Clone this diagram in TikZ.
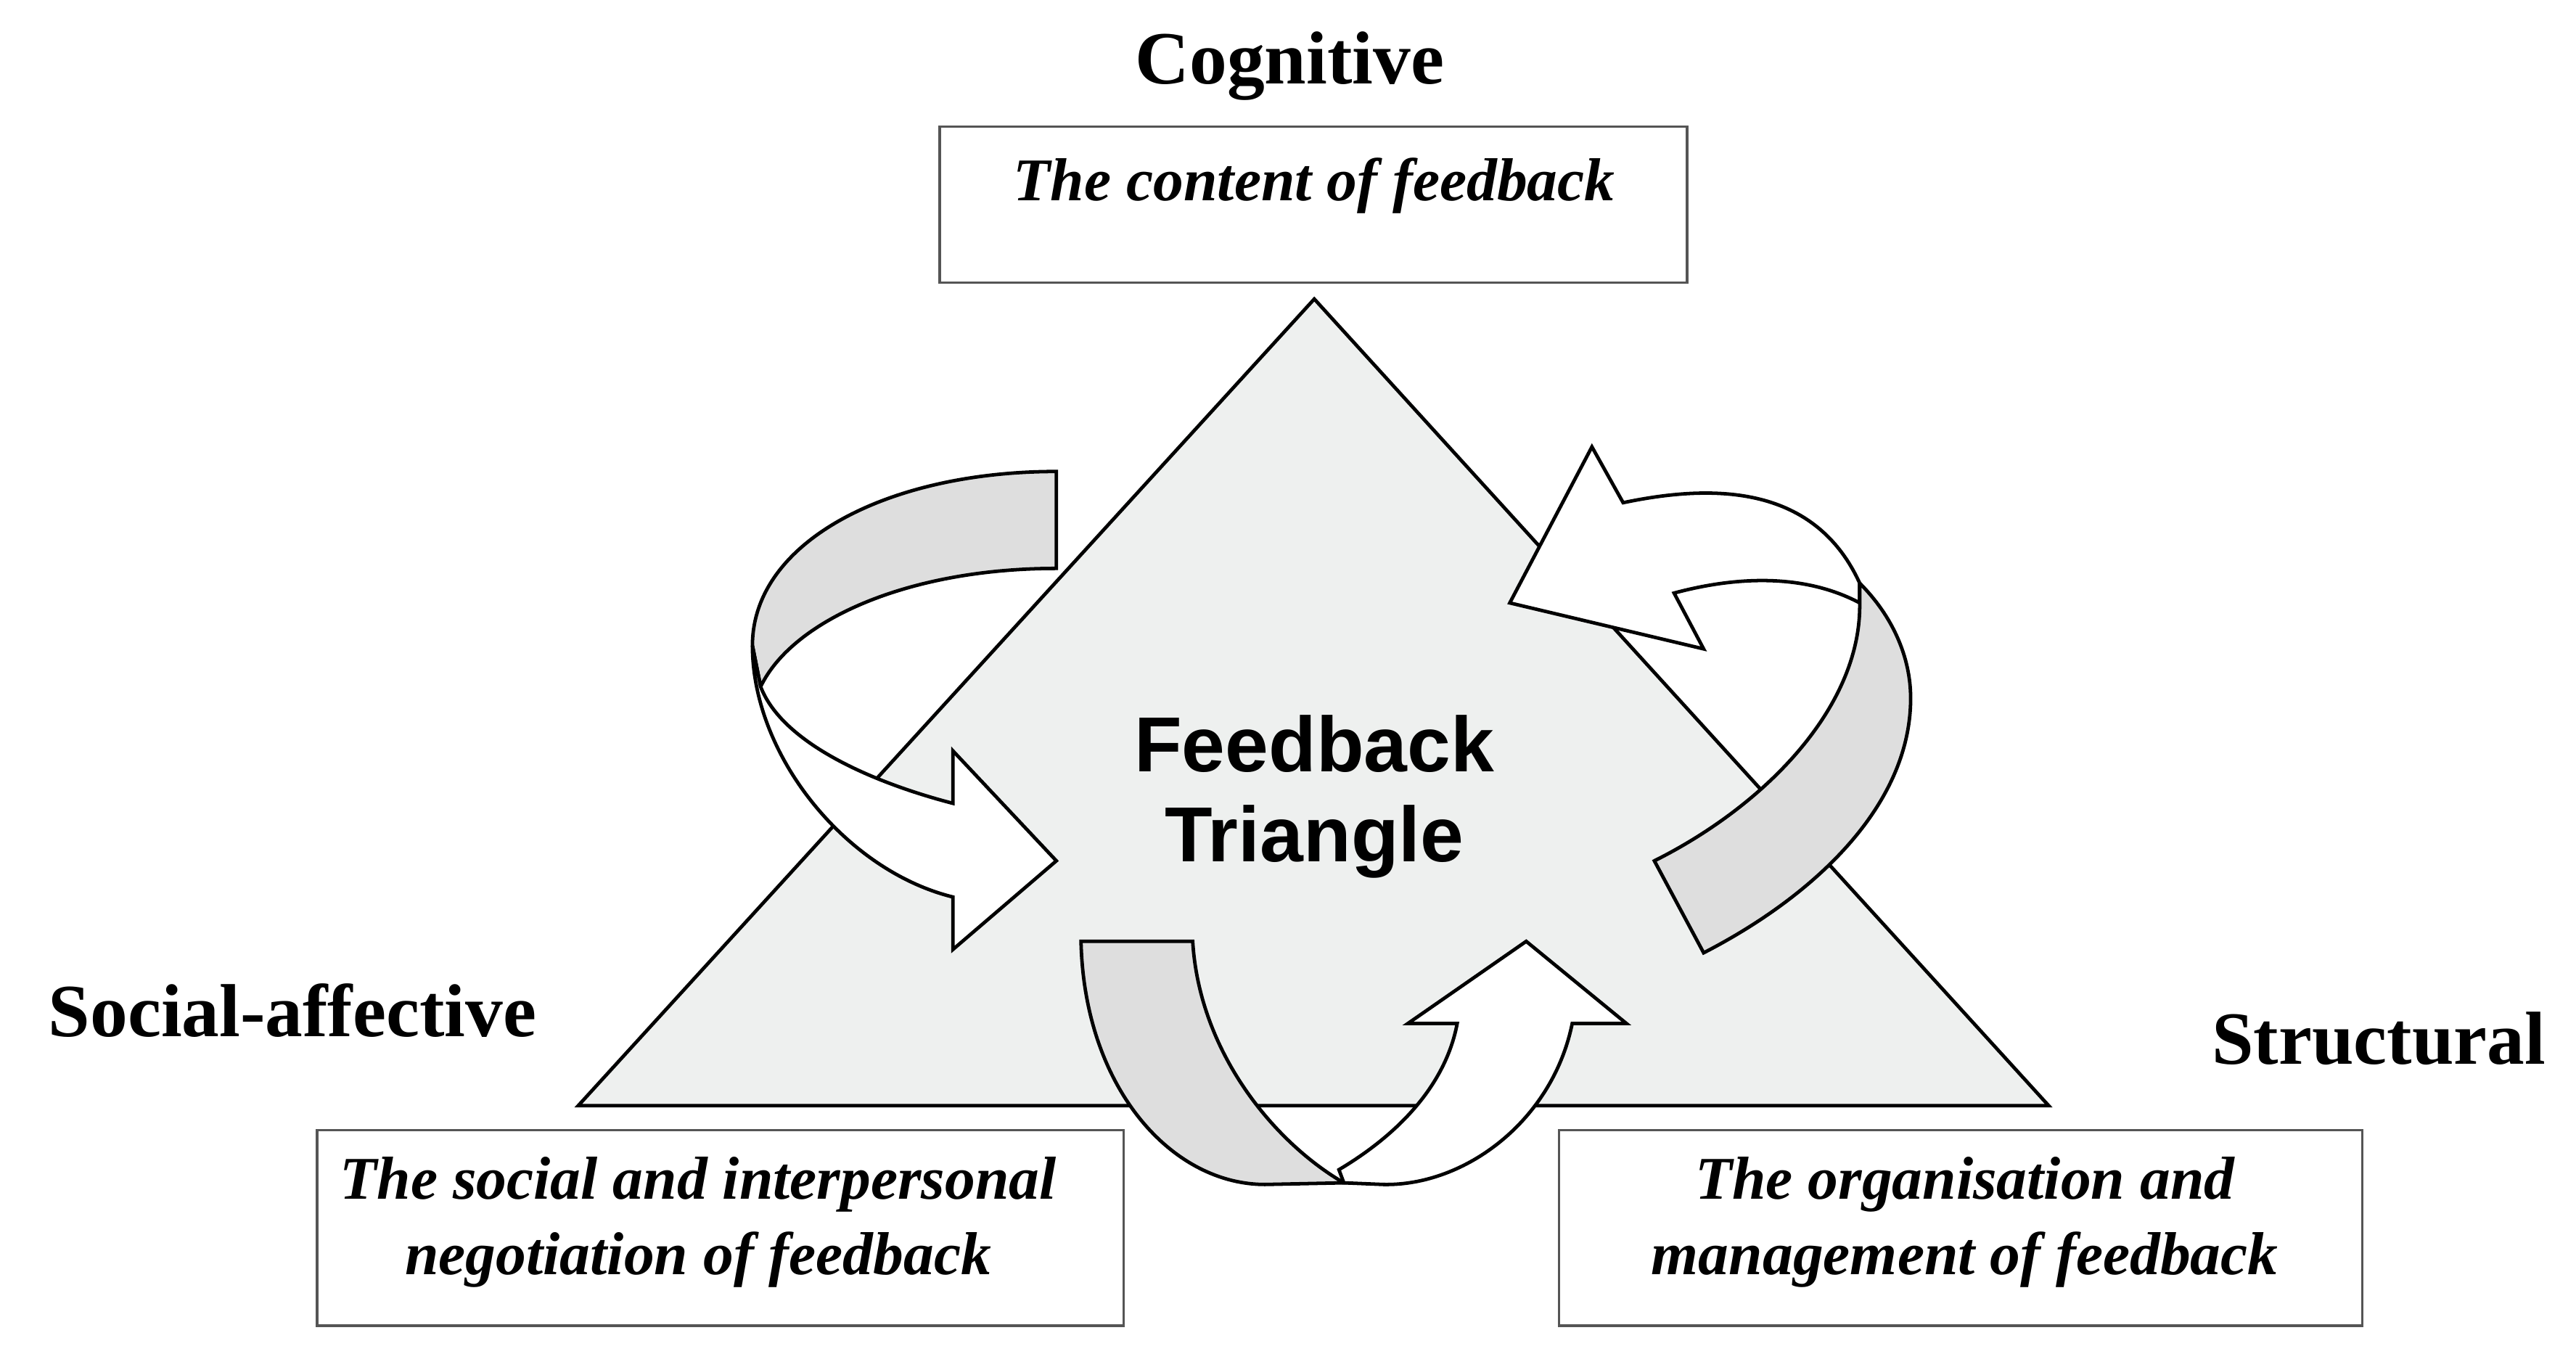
\documentclass[tikz,border=0pt]{standalone}
\usepackage{fontspec}
\setmainfont{Liberation Serif}
\newfontfamily\sansf{Liberation Sans}
\definecolor{trifill}{HTML}{EEF0EF}
\definecolor{ribgray}{HTML}{DEDEDE}
\definecolor{boxline}{HTML}{555555}
\begin{document}
\begin{tikzpicture}[x=0.01cm,y=-0.01cm,
  box/.style={draw=boxline,line width=0.45pt,fill=white,inner sep=0pt},
  boxtxt/.style={font=\fontsize{10.5}{13}\selectfont\bfseries\itshape,align=center},
  head/.style={font=\fontsize{13}{15}\selectfont\bfseries},
  rib/.style={draw=black,line width=0.6pt,line join=miter}]
\useasboundingbox (0,0) rectangle (1568,824);
% triangle
\draw[fill=trifill,line width=0.6pt] (800,182) coordinate (apex) -- (1247,673) -- (352,673) -- cycle;
% boxes
\draw[box] (572,77) rectangle (1027,172);
\node[boxtxt] (tc) at (800,113) {The content of feedback};
\draw[box] (193,688) rectangle (684,807);
\node[boxtxt] (tl) at (425,744) {The social and interpersonal\\negotiation of feedback};
\draw[box] (949,688) rectangle (1438,807);
\node[boxtxt] (tr) at (1196,744) {The organisation and\\management of feedback};
% headings
\node[head] (cog) at (785,40) {Cognitive};
\node[head] (soc) at (178,615) {Social-affective};
\node[head] (str) at (1448,632) {Structural};
\node[font=\sansf\fontsize{13.5}{15.6}\selectfont\bfseries,align=center] (ft) at (800,485) {Feedback\\Triangle};
% left arrow
\draw[rib,fill=ribgray] (643,287) .. controls (540,287) and (458,330) .. (458,393) -- (463,418) .. controls (482,378) and (552,346) .. (643,346) -- cycle;
\draw[rib,fill=white] (458,393) .. controls (458,460) and (515,530) .. (580,546) -- (580,578) -- (643,524) -- (580,457) -- (580,489) .. controls (530,476) and (476,452) .. (463,418) -- cycle;
% right arrow
\draw[rib,fill=white] (988,306) .. controls (1045,294) and (1105,296) .. (1132,355) -- (1132,367) .. controls (1100,350) and (1060,350) .. (1019,361) -- (1037,395) -- (919,367) -- (969,272) -- cycle;
\draw[rib,fill=ribgray] (1132,355) .. controls (1152,375) and (1163,400) .. (1163,425) .. controls (1163,490) and (1105,545) .. (1037,580) -- (1007,524) .. controls (1075,490) and (1133,430) .. (1132,367) -- cycle;
% bottom arrow
\draw[rib,fill=white] (815,712) .. controls (852,690) and (880,660) .. (887,623) -- (857,623) -- (929,573) -- (990,623) -- (957,623) .. controls (945,682) and (892,722) .. (842,721) -- (818,720) -- cycle;
\draw[rib,fill=ribgray] (658,573) -- (726,573) .. controls (730,640) and (775,695) .. (818,720) -- (770,721) .. controls (713,721) and (660,662) .. (658,573) -- cycle;
\end{tikzpicture}
\end{document}
